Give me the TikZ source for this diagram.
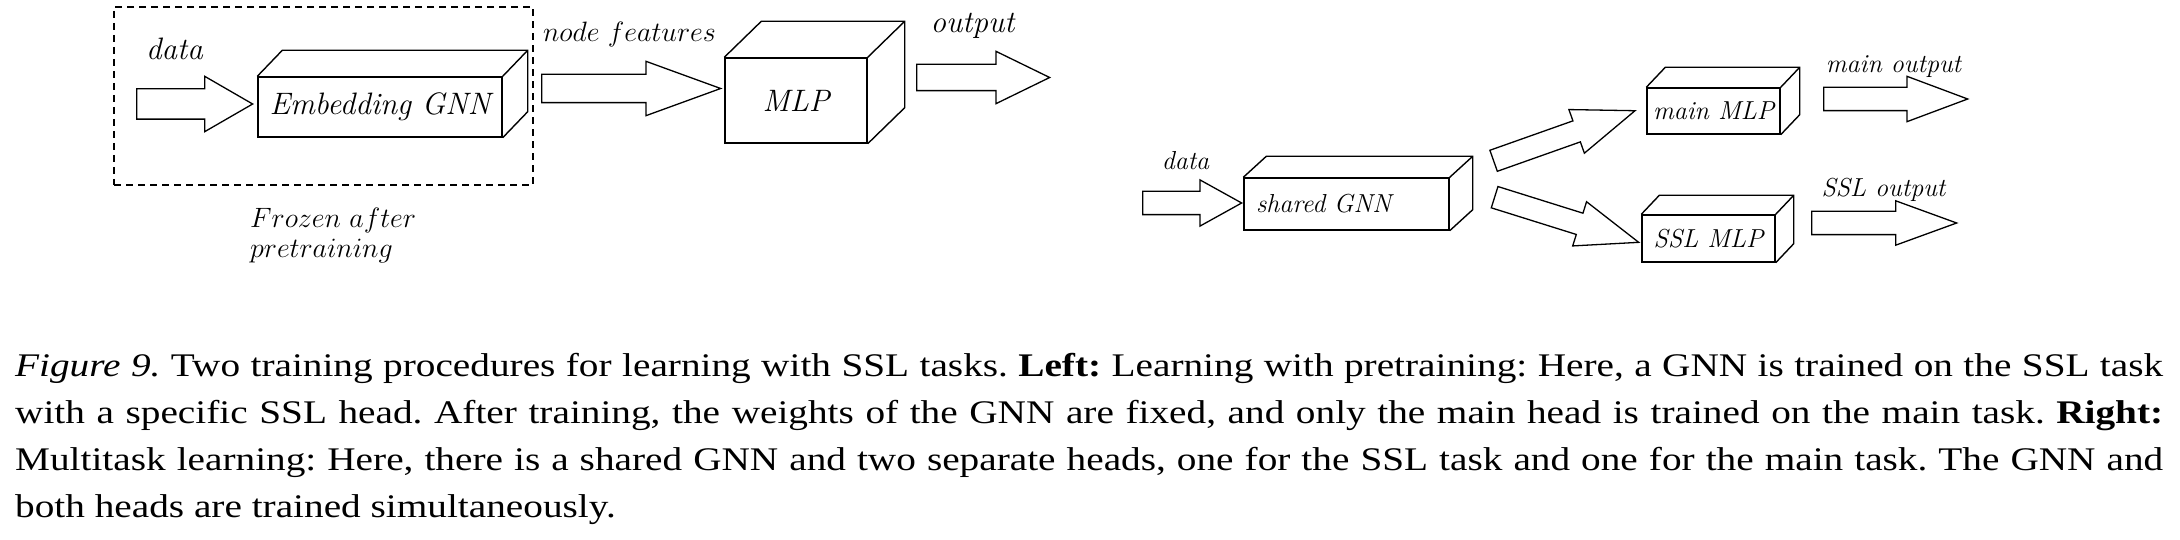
\RequirePackage{fix-cm}
\documentclass[tikz,border=0pt]{standalone}
\usepackage{fontspec}
\newfontfamily\capfont{Liberation Serif}[FakeStretch=1.19]
\usetikzlibrary{shapes.arrows}
\tikzset{
    box/.style={draw, rectangle, line width=1.4pt, inner sep=0pt, font=\fontsize{31}{34}\selectfont\itshape},
    smallbox/.style={box, font=\fontsize{26}{28}\selectfont\itshape},
    tag/.style={inner sep=0pt, font=\fontsize{31}{30}\selectfont\itshape},
    mathtag/.style={inner sep=0pt, font=\fontsize{28}{30}\selectfont},
    smalltag/.style={inner sep=0pt, font=\fontsize{26}{28}\selectfont\itshape},
    fat/.style={draw, single arrow, line width=1.3pt, inner sep=0pt, minimum width=0pt, anchor=tail}
}

\begin{document}
\begin{tikzpicture}[x=1pt, y=-1pt]
\useasboundingbox (0,0) rectangle (2180,540);
% pretraining (left)
\node[draw, dash pattern=on 7pt off 5pt, line width=1.3pt, minimum width=419pt, minimum height=178pt, inner sep=0pt] (frozen) at (323.5,96) {};
\node[tag, anchor=base] (datal) at (174.5,60) {data};
\node[fat, inner ysep=14.5pt, single arrow head extend=12.5pt, single arrow tip angle=60, minimum height=116pt] (inl) at (136,104) {};
\node[box, minimum width=244pt, minimum height=60pt] (emb) at (380,107) {Embedding GNN};
\node[mathtag, anchor=base west, align=left] (froz) at (250,258) {$Frozen\ after$\\$pretraining$};
\node[mathtag, anchor=base] (nf) at (629.5,42) {$node\ features$};
\node[fat, inner ysep=13.5pt, single arrow head extend=13pt, single arrow tip angle=40, minimum height=179pt] (feat) at (541,88.5) {};
\node[box, minimum width=142pt, minimum height=85pt] (mlp) at (796,100.5) {MLP};
\node[tag, anchor=base] (outl) at (972.5,33) {output};
\node[fat, inner ysep=12.5pt, single arrow head extend=13pt, single arrow tip angle=52, minimum height=133pt] (outarrl) at (916,77.5) {};
% multitask (right)
\node[smalltag, anchor=base] (datar) at (1185.5,170) {data};
\node[fat, inner ysep=11pt, single arrow head extend=11.5pt, single arrow tip angle=58, minimum height=99pt] (inr) at (1142,203) {};
\node[smallbox, minimum height=52pt, text width=181pt, inner xsep=12pt, align=left] (gnn) at (1346.5,204) {shared GNN};
\node[fat, inner ysep=10.5pt, single arrow head extend=12pt, single arrow tip angle=41, minimum height=150pt, rotate=19.5] (up) at (1493,161) {};
\node[fat, inner ysep=10.5pt, single arrow head extend=12pt, single arrow tip angle=41, minimum height=151pt, rotate=-17.4] (down) at (1494,197) {};
\node[smallbox, minimum width=133pt, minimum height=46pt] (mainmlp) at (1713.5,111) {main MLP};
\node[smallbox, minimum width=133pt, minimum height=47pt] (sslmlp) at (1708.5,238.5) {SSL MLP};
\node[smalltag, anchor=base] (mainout) at (1893.5,73) {main output};
\node[fat, inner ysep=11pt, single arrow head extend=11pt, single arrow tip angle=41, minimum height=144pt] (mainarr) at (1823,99) {};
\node[smalltag, anchor=base] (sslout) at (1883.5,197) {SSL output};
\node[fat, inner ysep=11pt, single arrow head extend=10.5pt, single arrow tip angle=40, minimum height=145pt] (sslarr) at (1811,223) {};
% depth of the boxes
\foreach \n/\dx/\dy in {emb/25/26, mlp/37/36, gnn/23/21, mainmlp/19/20, sslmlp/18/19}
    \draw[line width=1.4pt] (\n.north west) -- ++(\dx,-\dy) -- ([shift={(\dx,-\dy)}]\n.north east) -- ([shift={(\dx,-\dy)}]\n.south east) -- (\n.south east) (\n.north east) -- ++(\dx,-\dy);
% caption
\node[anchor=base west, text width=2148pt, align=justify, inner sep=0pt, font=\capfont\fontsize{33}{47}\selectfont\frenchspacing] (cap) at (15,376) {\textit{Figure 9.} Two training procedures for learning with SSL tasks. \textbf{Left:} Learning with pretraining: Here, a GNN is trained on the SSL task\linebreak with a specific SSL head. After training, the weights of the GNN are fixed, and only the main head is trained on the main task. \textbf{Right:}\linebreak Multitask learning: Here, there is a shared GNN and two separate heads, one for the SSL task and one for the main task. The GNN and\linebreak both heads are trained simultaneously.};
\end{tikzpicture}
\end{document}
